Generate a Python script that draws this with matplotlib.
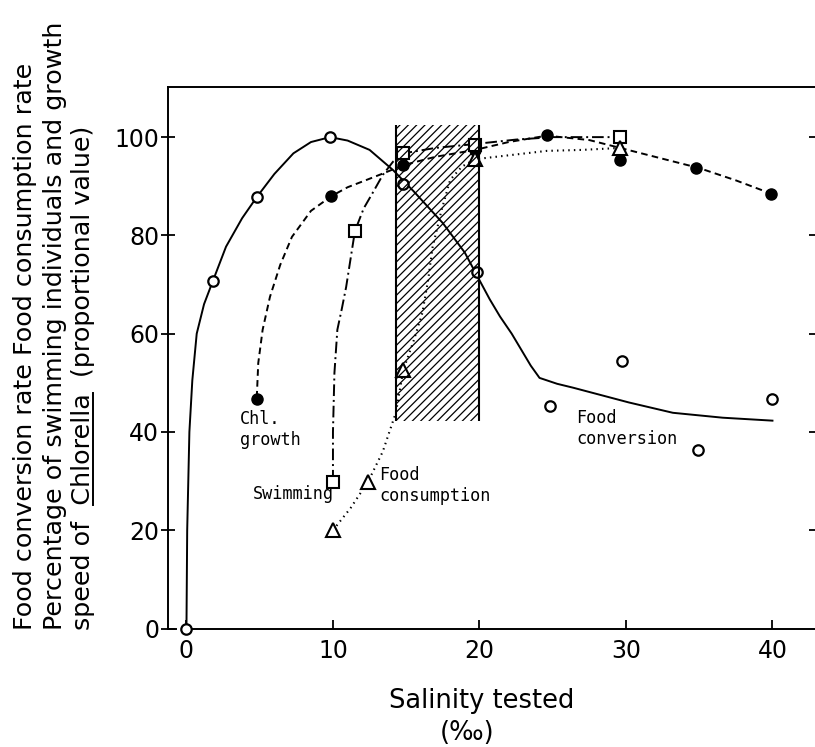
"""Salinity response of food conversion, food consumption, swimming and Chlorella growth."""

import matplotlib
matplotlib.use("Agg")
import matplotlib.pyplot as plt
from matplotlib.lines import Line2D
from matplotlib.patches import Rectangle

# measured points (salinity, value)
conv_x = [0, 1.8, 4.8, 9.8, 14.8, 19.8, 24.8, 29.7, 34.9, 40.0]
conv_y = [0, 70.7, 87.8, 100, 90.4, 72.6, 45.3, 54.5, 36.4, 46.7]

chl_x = [4.8, 9.9, 14.8, 19.7, 24.6, 29.6, 34.8, 39.9]
chl_y = [46.7, 88, 94.3, 97.4, 100.4, 95.3, 93.7, 88.4]

swim_x = [10, 11.5, 14.8, 19.7, 29.6]
swim_y = [29.9, 80.9, 96.7, 98.4, 100]

cons_x = [10, 12.4, 14.8, 19.7, 29.6]
cons_y = [20, 29.9, 52.6, 95.5, 97.8]

# hand-drawn curves
conv_fit_x = [0, 0.05, 0.2, 0.4, 0.7, 1.2, 1.8, 2.7, 3.8, 4.8, 6, 7.3, 8.5, 9.8, 11, 12.5,
              14.1, 15.5, 17.5, 19, 19.8, 20.7, 21.4, 22.2, 22.8, 23.5, 24.1, 25.3, 26.4,
              28.3, 30.2, 33.2, 36.6, 40]
conv_fit_y = [0, 20, 40, 50.5, 60, 66, 70.7, 77.7, 83.5, 87.8, 92.5, 96.7, 99, 100, 99.3, 97.4,
              93.3, 89, 82.5, 76.5, 72, 67, 63.5, 60, 57, 53.5, 51, 49.8, 49,
              47.5, 46, 43.9, 42.9, 42.3]

chl_fit_x = [4.8, 4.9, 5.2, 5.7, 6.4, 7.2, 8.5, 9.9, 11, 12.3, 13.5, 14.8, 17, 19.7, 22, 24.6,
             27.5, 30, 32.5, 35, 37.5, 40]
chl_fit_y = [47, 54, 60.8, 67.5, 74, 79.7, 85, 88, 89.8, 91.3, 92.7, 94.3, 96, 97.4, 99, 100.3,
             99.4, 97.5, 95.6, 93.7, 91.2, 88.4]

swim_fit_x = [10, 10.0, 10.1, 10.3, 10.6, 10.9, 11.5, 12.1, 12.7, 13.4, 14.1, 14.8, 17, 19.7,
              22.5, 25, 27.5, 29.6]
swim_fit_y = [29.9, 40, 52, 60.8, 65, 69.5, 80.9, 85.5, 88.6, 92.3, 95, 96.7, 97.8, 98.6,
              99.5, 100, 100, 100]

cons_fit_x = [10, 11.2, 12.4, 13.4, 14.3, 14.8, 15.5, 16.1, 16.5, 16.8, 17.4, 18, 18.8, 19.7,
              22, 24.6, 27, 29.6]
cons_fit_y = [20, 24.5, 29.9, 36, 44, 52.6, 58.5, 64.2, 71, 77.6, 85, 91.3, 94, 95.5,
              96.3, 97.2, 97.4, 97.8]

# shaded optimum range
band_x = [14.3, 20.0]
band_y = [42.3, 102.4]

x_ticks = [0, 10, 20, 30, 40]
y_ticks = [0, 20, 40, 60, 80, 100]

ylabel_lines = ["Food conversion rate Food consumption rate",
                "Percentage of swimming individuals and growth",
                "speed of  Chlorella  (proportional value)"]

W, H = 815, 747


def underline_word(fig, x_px, y_px, prefix, word, fontsize):
    """Underline `word` in a vertical text line that starts at (x_px, y_px)."""
    renderer = fig.canvas.get_renderer()
    probe = fig.text(0, 0, prefix + word, fontsize=fontsize)
    w_all = probe.get_window_extent(renderer).width
    probe.set_text(word)
    w_word = probe.get_window_extent(renderer).width
    probe.remove()
    y0 = y_px + w_all - w_word
    y1 = y_px + w_all
    xu = x_px + 2.5
    fig.add_artist(Line2D([xu / W, xu / W], [y0 / H, y1 / H], transform=fig.transFigure,
                          color="black", lw=1.4))


def main():
    plt.rcParams["hatch.linewidth"] = 0.9
    fig = plt.figure(figsize=(W / 100, H / 100), dpi=100)
    ax = fig.add_axes([168 / W, 118.5 / H, (817 - 168) / W, 541.5 / H])
    ax.set_xlim(-1.26, 43.04)
    ax.set_ylim(0, 110.2)

    lw = 1.4
    ax.plot(conv_fit_x, conv_fit_y, color="black", lw=lw, zorder=2)
    ax.plot(chl_fit_x, chl_fit_y, color="black", lw=lw, ls=(0, (3.4, 2.2)), zorder=2)
    ax.plot(swim_fit_x, swim_fit_y, color="black", lw=lw, ls=(0, (6, 2, 1, 2)), zorder=2)
    ax.plot(cons_fit_x, cons_fit_y, color="black", lw=1.5, ls=(0, (0.7, 2.0)), zorder=2)

    ax.plot(conv_x, conv_y, ls="none", marker="o", ms=7.5, mfc="white", mec="black",
            mew=1.6, zorder=3, clip_on=False)
    ax.plot(chl_x, chl_y, ls="none", marker="o", ms=8, mfc="black", mec="black", zorder=3)
    ax.plot(swim_x, swim_y, ls="none", marker="s", ms=9, mfc="white", mec="black",
            mew=1.5, zorder=3)
    ax.plot(cons_x, cons_y, ls="none", marker="^", ms=9.5, mfc="white", mec="black",
            mew=1.5, zorder=3)

    ax.add_patch(Rectangle((band_x[0], band_y[0]), band_x[1] - band_x[0], band_y[1] - band_y[0],
                           fill=False, hatch="////", lw=0, edgecolor="black", zorder=4))
    ax.vlines(band_x, band_y[0], band_y[1], color="black", lw=1.5, zorder=4)

    mono = dict(family="DejaVu Sans Mono", fontsize=12.2, va="top", ha="left", linespacing=1.2)
    ax.text(3.65, 44.5, "Chl.\ngrowth", **mono)
    ax.text(4.54, 29.2, "Swimming", **mono)
    ax.text(13.14, 33.1, "Food\nconsumption", **mono)
    ax.text(26.6, 44.7, "Food\nconversion", **mono)

    # axes frame
    for side in ("left", "bottom", "top"):
        ax.spines[side].set_linewidth(1.4)
    ax.spines["right"].set_visible(False)
    ax.spines["bottom"].set_bounds(0, 43.04)
    ax.plot([-1.26, -0.7], [0, 0], color="black", lw=1.4, clip_on=False, zorder=1)

    ax.set_xticks(x_ticks)
    ax.set_yticks(y_ticks)
    ax.tick_params(axis="x", direction="in", length=6.5, width=1.3, pad=7.5, labelsize=17)
    ax.tick_params(axis="y", direction="inout", length=10.5, width=1.3, pad=1, labelsize=17)

    ax_r = ax.twinx()
    ax_r.set_ylim(ax.get_ylim())
    ax_r.set_yticks(y_ticks[1:])
    ax_r.tick_params(axis="y", direction="in", length=6, width=1.3, labelright=False)
    for side in ("left", "right", "top", "bottom"):
        ax_r.spines[side].set_visible(False)

    fig.text(482 / W, (H - 708) / H, "Salinity tested", ha="center", va="baseline", fontsize=18.5)
    fig.text(467 / W, (H - 733) / H, "(‰)", ha="center", va="center", fontsize=18.5)

    fs_lab = 18.3
    base_x = [31.7, 61.7, 90.0]
    start_y = H - 630
    for bx, line in zip(base_x, ylabel_lines):
        fig.text(bx / W, start_y / H, line, rotation=90, rotation_mode="anchor",
                 ha="left", va="baseline", fontsize=fs_lab)
    fig.canvas.draw()
    underline_word(fig, base_x[2], start_y, "speed of  ", "Chlorella", fs_lab)

    fig.savefig("out.png", dpi=100)


if __name__ == "__main__":
    main()
